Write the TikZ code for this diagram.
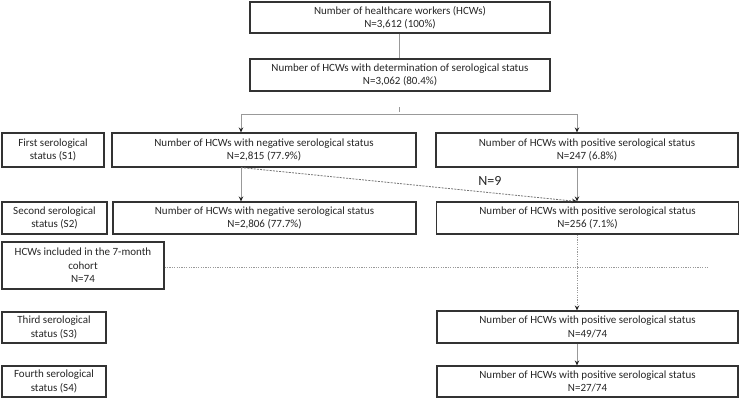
\documentclass[tikz,border=0pt]{standalone}
\usepackage{fontspec}
\setmainfont{Carlito}
\usetikzlibrary{arrows.meta,calc}
\begin{document}
\begin{tikzpicture}[x=1pt,y=-1pt,
  box/.style={draw=black!80,line width=1.1pt,fill=white,align=center,inner sep=1pt,
    font=\fontsize{11}{13.5}\selectfont,text=black!85},
  conn/.style={draw=black!40,line width=1pt},
  arr/.style={conn,-{Stealth[length=5pt,width=4.5pt,black!85]}},
  dsh/.style={draw=black!55,line width=0.8pt,dash pattern=on 2pt off 1.2pt},
  dot/.style={draw=black!40,line width=0.8pt,dash pattern=on 1.2pt off 1.2pt}]
\useasboundingbox (0,0) rectangle (742,400);
% boxes
\node[box,minimum width=300pt,minimum height=31pt] (top) at (400,17.5) {Number of healthcare workers (HCWs)\\N=3,612 (100\%)};
\node[box,minimum width=300pt,minimum height=32pt] (det) at (400,75) {Number of HCWs with determination of serological status\\N=3,062 (80.4\%)};
\node[box,minimum width=102pt,minimum height=34pt] (l1) at (53,150) {First serological\\status (S1)};
\node[box,minimum width=304pt,minimum height=34pt] (n1) at (264,150) {Number of HCWs with negative serological status\\N=2,815 (77.9\%)};
\node[box,minimum width=302pt,minimum height=34pt] (p1) at (587,150) {Number of HCWs with positive serological status\\N=247 (6.8\%)};
\node[box,minimum width=105pt,minimum height=32pt] (l2) at (54.5,218) {Second serological\\status (S2)};
\node[box,minimum width=303pt,minimum height=32pt] (n2) at (264.5,218) {Number of HCWs with negative serological status\\N=2,806 (77.7\%)};
\node[box,minimum width=302pt,minimum height=32pt] (p2) at (587.5,218) {Number of HCWs with positive serological status\\N=256 (7.1\%)};
\node[box,minimum width=162pt,minimum height=47pt] (hc) at (83,265.5) {HCWs included in the 7-month\\cohort\\N=74};
\node[box,minimum width=104pt,minimum height=31pt] (l3) at (54,327.5) {Third serological\\status (S3)};
\node[box,minimum width=301pt,minimum height=32pt] (p3) at (587.5,327) {Number of HCWs with positive serological status\\N=49/74};
\node[box,minimum width=104pt,minimum height=31pt] (l4) at (54,381.5) {Fourth serological\\status (S4)};
\node[box,minimum width=301pt,minimum height=31pt] (p4) at (587.5,381.5) {Number of HCWs with positive serological status\\N=27/74};
% coordinates
\coordinate (sL) at (241,114);
\coordinate (sR) at (577,114);
\coordinate (tk1) at (399,107);
\coordinate (tk2) at (399,112);
\coordinate (dotend) at (707,267);
% connectors
\draw[conn] (top.south -| tk1) -- (det.north -| tk1);
\draw[conn,line width=0.6pt] (tk1) -- (tk2);
\draw[conn] (sL) -- (sR);
\draw[arr] (sL) -- (n1.north -| sL);
\draw[arr] (sR) -- (p1.north -| sR);
\draw[arr] (n1.south -| sL) -- (n2.north -| sL);
\draw[arr] (p1.south -| sR) -- (p2.north -| sR);
\draw[dsh,-{Stealth[length=5pt,width=4.5pt,black!85]}] (n1.south -| sL) -- (p2.north -| sR);
\node[font=\fontsize{14}{14}\selectfont,text=black!85] (n9) at (490,181) {N=9};
\draw[dot] (hc.east |- dotend) -- (dotend);
\draw[dot,-{Stealth[length=5pt,width=4.5pt,black!85]}] (p2.south -| sR) -- (p3.north -| sR);
\draw[arr] (p3.south -| sR) -- (p4.north -| sR);
\end{tikzpicture}
\end{document}
